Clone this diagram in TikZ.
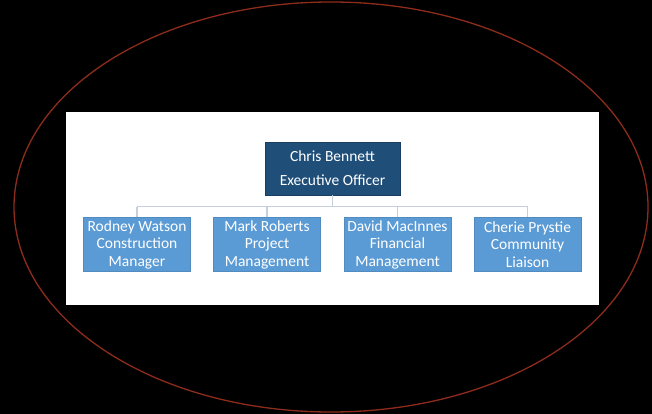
\documentclass[tikz,border=0pt]{standalone}
\usepackage{fontspec}
\setmainfont{Carlito}
\definecolor{topblue}{HTML}{1F4E79}
\definecolor{childblue}{HTML}{5B9BD5}
\definecolor{linkgray}{HTML}{C5D0DC}
\definecolor{ringred}{HTML}{8E2C1C}
\begin{document}
\begin{tikzpicture}[x=1pt,y=-1pt,
  topbox/.style={fill=topblue, draw=topblue!80!black, line width=0.6pt, text=white, minimum width=135pt, minimum height=53pt, inner sep=0pt, align=center, font=\fontsize{15.5}{24}\selectfont},
  childbox/.style={fill=childblue, draw=childblue!90!black, line width=0.4pt, text=white, minimum width=107pt, minimum height=54pt, inner sep=0pt, align=center, font=\fontsize{15.5}{17.5}\selectfont},
  link/.style={draw=linkgray, line width=1.5pt}]
\useasboundingbox (0,0) rectangle (652,414);
\fill[black] (0,0) rectangle (652,414);
\draw[ringred, line width=1.3pt] (331,207) ellipse [x radius=317pt, y radius=205pt];
\fill[white] (66,112) rectangle (599,305);
\node[topbox] (ceo) at (332.5,168.5) {Chris Bennett\\Executive Officer};
\node[childbox] (c1) at (137,244.5) {Rodney Watson\\Construction\\Manager};
\node[childbox] (c2) at (267,244.5) {Mark Roberts\\Project\\Management};
\node[childbox] (c3) at (397.5,244.5) {David MacInnes\\Financial\\Management};
\node[childbox] (c4) at (527.5,244.5) {Cherie Prystie\\Community\\Liaison};
\coordinate (bus) at (0,206.5);
\draw[link] (ceo.south) -- (ceo.south |- bus);
\draw[link] (c1.north |- bus) -- (c4.north |- bus);
\foreach \c in {c1,c2,c3,c4} \draw[link] (\c.north |- bus) -- (\c.north);
\end{tikzpicture}
\end{document}
